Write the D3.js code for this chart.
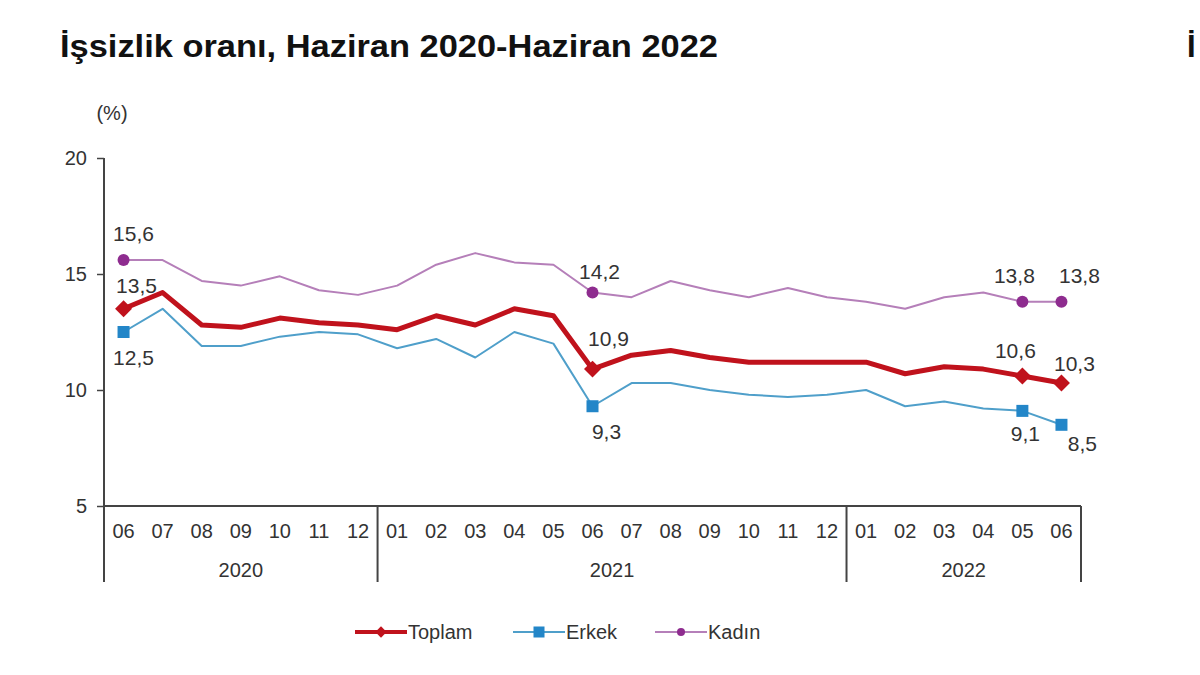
<!DOCTYPE html>
<html><head><meta charset="utf-8">
<script src="https://cdn.jsdelivr.net/npm/d3@7"></script>
<style>body{margin:0;background:#fff}svg{display:block}text{font-family:"Liberation Sans",Arial,sans-serif}</style>
</head><body><svg id="c" width="1200" height="675"></svg>
<script>
const months = ["06","07","08","09","10","11","12","01","02","03","04","05","06","07","08","09","10","11","12","01","02","03","04","05","06"];
const years = [{label:"2020", from:0, to:6},{label:"2021", from:7, to:18},{label:"2022", from:19, to:24}];
const toplam = [13.5,14.2,12.8,12.7,13.1,12.9,12.8,12.6,13.2,12.8,13.5,13.2,10.9,11.5,11.7,11.4,11.2,11.2,11.2,11.2,10.7,11.0,10.9,10.6,10.3];
const erkek  = [12.5,13.5,11.9,11.9,12.3,12.5,12.4,11.8,12.2,11.4,12.5,12.0,9.3,10.3,10.3,10.0,9.8,9.7,9.8,10.0,9.3,9.5,9.2,9.1,8.5];
const kadin  = [15.6,15.6,14.7,14.5,14.9,14.3,14.1,14.5,15.4,15.9,15.5,15.4,14.2,14.0,14.7,14.3,14.0,14.4,14.0,13.8,13.5,14.0,14.2,13.8,13.8];
const yTicks = [5,10,15,20];
const markedIdx = [0,12,23,24];
const seriesNames = ["Toplam","Erkek","Kadın"];

const svg = d3.select("#c");
const x = d3.scaleBand().domain(d3.range(months.length)).range([104,1081]);
const y = d3.scaleLinear().domain([5,20]).range([506,158]);
const cx = i => x(i) + x.bandwidth()/2;
const FONT = "Liberation Sans, Arial, sans-serif";

// title
svg.append("text").attr("x",60).attr("y",57).attr("font-size",31).attr("font-weight","bold")
  .style("font-family","'Liberation Sans Narrow','Arial Narrow','Liberation Sans',sans-serif")
  .attr("fill","#111").attr("textLength",658).attr("lengthAdjust","spacingAndGlyphs")
  .text("İşsizlik oranı, Haziran 2020-Haziran 2022");
svg.append("text").attr("x",1187).attr("y",57).attr("font-size",31).attr("font-weight","bold")
  .style("font-family","'Liberation Sans Narrow','Arial Narrow','Liberation Sans',sans-serif")
  .attr("fill","#111").text("İ");

svg.append("text").attr("x",112).attr("y",113).attr("dy","0.35em").attr("text-anchor","middle").attr("font-size",20).attr("fill","#333").text("(%)");

// y axis
const yAxis = svg.append("g").attr("transform","translate(104,0)")
  .call(d3.axisLeft(y).tickValues(yTicks).tickSize(7).tickFormat(d3.format("d")));
yAxis.select(".domain").remove();
yAxis.selectAll("line").attr("stroke","#444").attr("stroke-width",1.5);
yAxis.selectAll("text").attr("font-size",20).attr("fill","#333").attr("x",-17).attr("font-family",FONT);
svg.append("line").attr("x1",104).attr("x2",104).attr("y1",158).attr("y2",582).attr("stroke","#444").attr("stroke-width",2);

// x axis
svg.append("line").attr("x1",104).attr("x2",1081).attr("y1",506).attr("y2",506).attr("stroke","#444").attr("stroke-width",2);
const xAxis = svg.append("g").attr("transform","translate(0,506)")
  .call(d3.axisBottom(x).tickSize(0).tickPadding(18).tickFormat(i => months[i]));
xAxis.select(".domain").remove();
xAxis.selectAll("text").attr("font-size",20).attr("fill","#333").attr("font-family",FONT);
years.forEach(yr => {
  const x0 = x(yr.from), x1 = x(yr.to) + x.bandwidth();
  svg.append("line").attr("x1",x1).attr("x2",x1).attr("y1",506).attr("y2",582).attr("stroke","#444").attr("stroke-width",2);
  svg.append("text").attr("x",(x0+x1)/2).attr("y",570).attr("dy","0.35em").attr("text-anchor","middle").attr("font-size",20).attr("fill","#333").text(yr.label);
});

const line = d3.line().x((d,i)=>cx(i)).y(d=>y(d));
const styles = {
  Toplam:{data:toplam, stroke:"#c0121c", width:5, fill:"#c0121c"},
  Erkek:{data:erkek, stroke:"#4f9fca", width:2, fill:"#2386c8"},
  Kadın:{data:kadin, stroke:"#b57fb9", width:2, fill:"#8e2c8f"}
};
function marker(g, name, px, py, s) {
  const st = styles[name];
  if (name==="Toplam") g.append("rect").attr("x",-s/2).attr("y",-s/2).attr("width",s).attr("height",s)
      .attr("transform",`translate(${px},${py}) rotate(45)`).attr("fill",st.fill);
  else if (name==="Erkek") g.append("rect").attr("x",px-s/2).attr("y",py-s/2).attr("width",s).attr("height",s).attr("fill",st.fill);
  else g.append("circle").attr("cx",px).attr("cy",py).attr("r",s/2).attr("fill",st.fill);
}
["Kadın","Erkek","Toplam"].forEach(name => {
  const st = styles[name];
  svg.append("path").datum(st.data).attr("d",line).attr("fill","none").attr("stroke",st.stroke)
    .attr("stroke-width",st.width).attr("stroke-linejoin","round");
  const g = svg.append("g");
  markedIdx.forEach(i => marker(g, name, cx(i), y(st.data[i]), name==="Toplam"?12:12));
});

// data labels
const fmt = v => d3.format(".1f")(v).replace(".",",");
const labelPos = [
  ["Kadın",0,10,-26],["Toplam",0,13,-23],["Erkek",0,10,26],
  ["Kadın",12,7,-21],["Toplam",12,16,-30],["Erkek",12,14,25],
  ["Kadın",23,-8,-26],["Kadın",24,18,-26],
  ["Toplam",23,-7,-25],["Toplam",24,13,-19],
  ["Erkek",23,3,23],["Erkek",24,21,19]
];
labelPos.forEach(([name,i,dx,dy]) => {
  const v = styles[name].data[i];
  svg.append("text").attr("x",cx(i)+dx).attr("y",y(v)+dy).attr("dy","0.35em").attr("text-anchor","middle")
    .attr("font-size",21).attr("fill","#333").text(fmt(v));
});

// legend
const leg = [{name:"Toplam", x:355},{name:"Erkek", x:513},{name:"Kadın", x:655}];
leg.forEach(l => {
  const st = styles[l.name];
  svg.append("line").attr("x1",l.x).attr("x2",l.x+52).attr("y1",632).attr("y2",632).attr("stroke",st.stroke).attr("stroke-width",l.name==="Toplam"?4:2);
  marker(svg, l.name, l.x+26, 632, l.name==="Toplam"?8:(l.name==="Erkek"?11:8));
  svg.append("text").attr("x",l.x+53).attr("y",632).attr("dy","0.35em").attr("font-size",20).attr("fill","#333").text(l.name);
});
</script></body></html>
